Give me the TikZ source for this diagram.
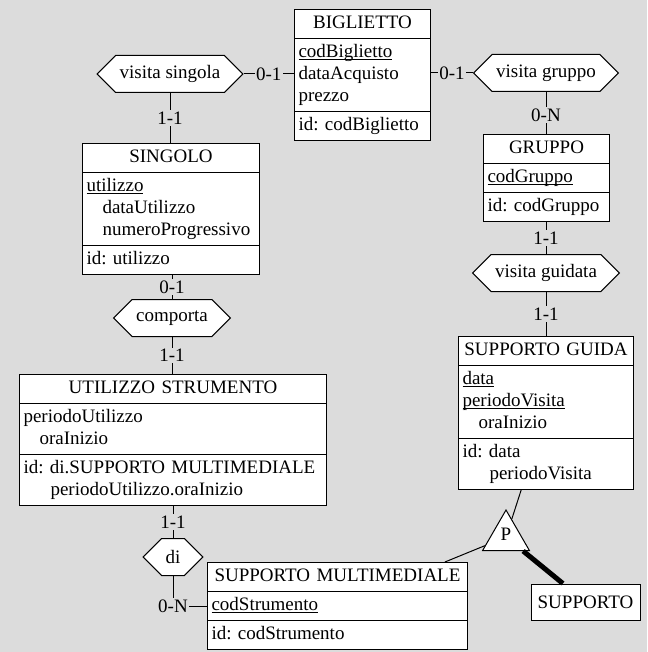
\documentclass[tikz,border=0pt]{standalone}
\usepackage{fontspec}
\setmainfont{Liberation Serif}
\usetikzlibrary{shapes.multipart,shapes.symbols,shapes.geometric,calc}

\definecolor{bgcol}{RGB}{220,220,220}
\hyphenpenalty=10000
\frenchspacing
\newcommand{\rowfont}{\fontsize{19}{22}\selectfont}
\newcommand{\keyattr}[1]{\leavevmode\setbox0\hbox{#1}\rlap{\rule[-2.7pt]{\wd0}{0.9pt}}#1}

\tikzset{
  entity/.style={rectangle split, rectangle split parts=3, draw, fill=white,
    anchor=north west, align=left, inner xsep=4pt, inner ysep=3pt,
    execute at begin node=\strut, execute at end node=\strut},
  relship/.style={signal, signal to=east and west, draw, fill=white,
    minimum height=37pt, inner xsep=4pt},
  isa/.style={regular polygon, regular polygon sides=3, draw, fill=white,
    minimum size=54pt, inner sep=0pt},
  card/.style={fill=bgcol, inner sep=1.5pt}
}

\begin{document}
\begin{tikzpicture}[x=1pt, y=-1pt, font=\rowfont, line width=1pt]

  % background
  \fill[bgcol] (0,0) rectangle (647,652);
  \useasboundingbox (0,0) rectangle (647,652);

  % entities
  \node[entity, text width=128pt] (biglietto) at (294,9) {\hfill BIGLIETTO\hfill\null%
    \nodepart{two}\keyattr{codBiglietto}\\dataAcquisto\\prezzo%
    \nodepart{three}id: codBiglietto};
  \node[entity, text width=118pt] (gruppo) at (483,134) {\hfill GRUPPO\hfill\null%
    \nodepart{two}\keyattr{codGruppo}%
    \nodepart{three}id: codGruppo};
  \node[entity, text width=169pt] (singolo) at (82,143) {\hfill SINGOLO\hfill\null%
    \nodepart{two}\keyattr{utilizzo}\\\hspace*{16pt}dataUtilizzo\\\hspace*{16pt}numeroProgressivo%
    \nodepart{three}id: utilizzo};
  \node[entity, text width=299pt] (utilizzo) at (19,374) {\hfill UTILIZZO STRUMENTO\hfill\null%
    \nodepart{two}periodoUtilizzo\\\hspace*{16pt}oraInizio%
    \nodepart{three}id: di.SUPPORTO MULTIMEDIALE\\\hspace*{27pt}periodoUtilizzo.oraInizio};
  \node[entity, text width=167pt] (guida) at (458,336) {\hfill SUPPORTO GUIDA\hfill\null%
    \nodepart{two}\keyattr{data}\\\keyattr{periodoVisita}\\\hspace*{16pt}oraInizio%
    \nodepart{three}id: data\\\hspace*{27pt}periodoVisita};
  \node[entity, text width=252pt] (multimed) at (207,562) {\hfill SUPPORTO MULTIMEDIALE\hfill\null%
    \nodepart{two}\keyattr{codStrumento}%
    \nodepart{three}id: codStrumento};
  \node[draw, fill=white, minimum width=109pt, minimum height=36pt] (supporto) at (585.5,602) {SUPPORTO};

  % relationships
  \node[relship] (vsingola) at (170,74) {visita singola};
  \node[relship] (vgruppo) at (546,73) {visita gruppo};
  \node[relship] (vguidata) at (546,273) {visita guidata};
  \node[relship] (comporta) at (172,318) {comporta};
  \node[relship] (di) at (173,557) {di};
  \node[isa] (p) at (506,537) {\raisebox{5pt}{P}};

  % connectors
  \draw (vsingola.east) -- (vsingola.east -| biglietto.west) node[card, midway] {0-1};
  \draw (vgruppo.west -| biglietto.east) -- (vgruppo.west) node[card, midway] {0-1};
  \draw (vsingola.south) -- (vsingola.south |- singolo.north) node[card, midway] {1-1};
  \draw (vgruppo.south) -- (vgruppo.south |- gruppo.north) node[card, pos=0.55] {0-N};
  \draw (vguidata.north |- gruppo.south) -- (vguidata.north) node[card, midway] {1-1};
  \draw (vguidata.south) -- (vguidata.south |- guida.north) node[card, midway] {1-1};
  \draw (comporta.north |- singolo.south) -- (comporta.north) node[card, midway] {0-1};
  \draw (comporta.south) -- (comporta.south |- utilizzo.north) node[card, midway] {1-1};
  \draw (di.north |- utilizzo.south) -- (di.north) node[card, midway] {1-1};
  \draw (di.south) |- ($(multimed.one split west)!0.5!(multimed.two split west)$) node[card, pos=0.5] {0-N};
  \draw (guida) -- (p);
  \draw (multimed) -- (p);
  \draw[line width=5pt] (p) -- (supporto);
\end{tikzpicture}
\end{document}
